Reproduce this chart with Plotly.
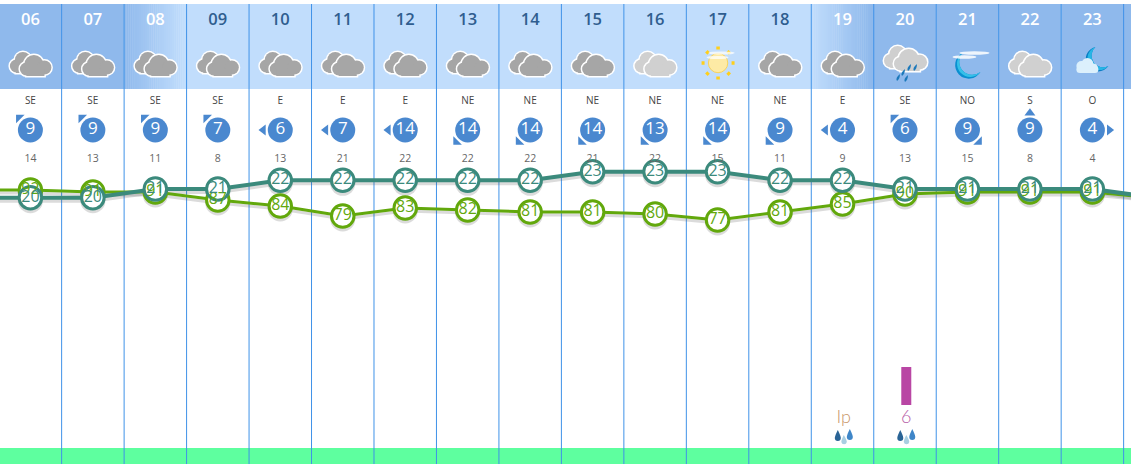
import base64
import math
import plotly.graph_objects as go

hours = [6, 7, 8, 9, 10, 11, 12, 13, 14, 15, 16, 17, 18, 19, 20, 21, 22, 23]
hour_labels = ["06", "07", "08", "09", "10", "11", "12", "13", "14", "15", "16", "17", "18", "19", "20", "21", "22", "23"]
temperature = [20, 20, 21, 21, 22, 22, 22, 22, 22, 23, 23, 23, 22, 22, 21, 21, 21, 21]
humidity = [92, 91, 91, 87, 84, 79, 83, 82, 81, 81, 80, 77, 81, 85, 90, 91, 91, 91]
temp_before, temp_after = 20, 20
hum_before, hum_after = 92, 88
wind_dir = ["SE", "SE", "SE", "SE", "E", "E", "E", "NE", "NE", "NE", "NE", "NE", "NE", "E", "SE", "NO", "S", "O"]
wind_speed = [9, 9, 9, 7, 6, 7, 14, 14, 14, 14, 13, 14, 9, 4, 6, 9, 9, 4]
gusts = [14, 13, 11, 8, 13, 21, 22, 22, 22, 21, 22, 15, 11, 9, 13, 15, 8, 4]
rain = [None] * 14 + [6, None, None, None]
rain_labels = [""] * 13 + ["Ip", "6", "", "", ""]
sky = ["cloud", "cloud", "cloud", "cloud", "cloud", "cloud", "cloud", "cloud", "cloud", "cloud", "light",
       "sun", "cloud", "cloud", "rain", "moon", "light", "mooncloud"]
is_night = [True, True, "dusk", False, False, False, False, False, False, False, False, False, False,
            "dawn", True, True, True, True]

PX = 62.47
X0 = 30.4
def px_to_hour(p):
    return 6 + (p - X0) / PX
XMIN, XMAX = px_to_hour(0), px_to_hour(1131)

NIGHT = (143, 185, 236)
DAY = (193, 221, 252)
GRID = "#3f92e8"
TEMP = "#3b8a7c"
HUM = "#62a80c"
WIND = "#4a88cf"
FONT = "Open Sans"
SHADOW = "rgba(90,90,90,.22)"


def rgb(c):
    return "rgb(%d,%d,%d)" % tuple(round(v) for v in c)


def mix(a, b, t):
    return tuple(a[i] + (b[i] - a[i]) * t for i in range(3))


def uri(svg):
    return "data:image/svg+xml;base64," + base64.b64encode(svg.encode()).decode()


def cloud_shape(ox, oy, s, circles, rect, fill):
    out = ""
    for st in ('fill="#fff" stroke="#fff" stroke-width="3"', f'fill="{fill}"'):
        for c in circles:
            out += f'<circle cx="{ox+s*c[0]}" cy="{oy+s*c[1]}" r="{s*c[2]}" {st}/>'
        out += f'<rect x="{ox+s*rect[0]}" y="{oy+s*rect[1]}" width="{s*rect[2]}" height="{s*rect[3]}" {st}/>'
    return out


def double_cloud(fill, dx=0, dy=0, s=1.0):
    back = cloud_shape(8.5 + dx, 13 + dy, s, [(7.5, 14, 6.5), (14, 8, 8)], (7, 14, 18, 7), fill)
    front = cloud_shape(19.5 + dx, 16 + dy, s, [(6.5, 14, 6.5), (14, 9.5, 9.5), (24.5, 12.5, 7)], (6.5, 14, 18, 7), fill)
    return back + front


HAZE = '<filter id="b"><feGaussianBlur stdDeviation="0.7"/></filter>'


def icon_svg(kind):
    body = ""
    if kind == "cloud":
        body = double_cloud("#a6a6a6")
    elif kind == "light":
        body = double_cloud("#d0d0d0")
    elif kind == "rain":
        body = double_cloud("#cfcfcf", dx=-0.5, dy=-6, s=1.05)
        for (x, y) in [(27, 34), (33, 29), (39, 29), (22, 39), (30, 40)]:
            body += f'<path d="M{x+3} {y-4} Q{x+3} {y+1} {x} {y+3} Q{x-2} {y} {x+3} {y-4}Z" fill="#1b78ba"/>'
    elif kind == "sun":
        for k in range(8):
            a = k * math.pi / 4
            body += (f'<line x1="{30.5+13.5*math.cos(a):.1f}" y1="{24+13.5*math.sin(a):.1f}" '
                     f'x2="{30.5+16.5*math.cos(a):.1f}" y2="{24+16.5*math.sin(a):.1f}" stroke="#ffcf1a" stroke-width="3.5"/>')
        body += '<circle cx="30.5" cy="24" r="9.7" fill="#fdeaa5" stroke="#f9d35a" stroke-width="1"/>'
        body += HAZE + '<g filter="url(#b)"><ellipse cx="34" cy="14" rx="13" ry="1.6" fill="#fff" opacity=".75"/>'
        body += '<ellipse cx="30" cy="18.5" rx="11" ry="1.6" fill="#fff" opacity=".75"/></g>'
    elif kind == "moon":
        body += '<path d="M25 14 A13.6 13.6 0 1 0 43 33 A13.15 13.15 0 0 1 25 14Z" fill="#0a8fd0"/>'
        body += '<path d="M25 14 A13.2 13.2 0 1 0 43 33 A13.15 13.15 0 0 1 25 14Z" fill="#35c0e8"/>'
        body += HAZE + '<g filter="url(#b)"><ellipse cx="37" cy="14" rx="15" ry="1.7" fill="#fff" opacity=".85"/>'
        body += '<ellipse cx="27" cy="18" rx="12" ry="1.7" fill="#fff" opacity=".85"/></g>'
    elif kind == "mooncloud":
        body += '<path d="M33 8 A12.4 12.4 0 1 0 46 27 A11.6 11.6 0 0 1 33 8Z" fill="#0a7fc4"/>'
        body += '<path d="M33 8 A11.9 11.9 0 1 0 46 27 A11.6 11.6 0 0 1 33 8Z" fill="#27b6e6"/>'
        body += ('<g fill="#dcf0fc"><circle cx="19" cy="27" r="5"/><circle cx="25" cy="25" r="6"/>'
                 '<circle cx="31" cy="29" r="4.5"/><rect x="14" y="27" width="22" height="7" rx="3.5"/></g>')
    return f'<svg xmlns="http://www.w3.org/2000/svg" width="60" height="50" viewBox="0 0 60 50">{body}</svg>'


DROPS = ('<svg xmlns="http://www.w3.org/2000/svg" width="24" height="20" viewBox="0 0 24 20">'
         '<path d="M6 2 Q3 8 3 10 A3 3 0 0 0 9 10 Q9 8 6 2Z" fill="#2a6496"/>'
         '<path d="M12 7 Q9.5 12 9.5 14 A2.8 2.8 0 0 0 15 14 Q15 12 12 7Z" fill="#a9cfe2"/>'
         '<path d="M18 1 Q15 7 15 9 A3 3 0 0 0 21 9 Q21 7 18 1Z" fill="#3f86c8"/></svg>')

ROW_HOUR, ROW_DIR, ROW_WIND, ROW_GUST, ROW_RAIN, ROW_ICON, ROW_DROP = 21, 101, 130, 159, 418, 64, 438
RAIN_DX = 1.3 / PX

shapes = []
for i, h in enumerate(hours):
    left, right = h - 0.5, h + 0.5
    mode = is_night[i]
    if mode is True or mode is False:
        x0 = XMIN - 1 if i == 0 else left
        x1 = XMAX + 1 if i == len(hours) - 1 else right
        shapes.append(dict(type="rect", xref="x", yref="y5", x0=x0, x1=x1, y0=4, y1=89, layer="below",
                           fillcolor=rgb(NIGHT if mode else DAY), line_width=0))
    else:
        steps = 30
        for s in range(steps):
            t = (s + 0.5) / steps
            c = mix(NIGHT, DAY, min(1, t / 0.95)) if mode == "dusk" else mix(DAY, NIGHT, min(1, t / 0.95))
            shapes.append(dict(type="rect", xref="x", yref="y5", x0=left + s / steps, x1=left + (s + 1.2) / steps,
                               y0=4, y1=89, layer="below", fillcolor=rgb(c), line_width=0))
shapes.append(dict(type="rect", xref="paper", yref="y5", x0=0, x1=1, y0=448, y1=464, layer="below",
                   fillcolor="#5eff9f", line_width=0))
for h in hours:
    shapes.append(dict(type="line", xref="x", yref="y5", x0=h + 0.5, x1=h + 0.5, y0=4, y1=464, layer="below",
                       line=dict(color=GRID, width=1)))

images = []
for h, s in zip(hours, sky):
    images.append(dict(source=uri(icon_svg(s)), xref="x", yref="y5", x=h, y=ROW_ICON, sizex=60 / PX, sizey=50,
                       xanchor="center", yanchor="middle", sizing="stretch", layer="above"))
for h, lab in zip(hours, rain_labels):
    if lab:
        images.append(dict(source=uri(DROPS), xref="x", yref="y5", x=h + RAIN_DX, y=ROW_DROP, sizex=24 / PX, sizey=20,
                           xanchor="center", yanchor="middle", sizing="stretch", layer="above"))

line_x = [5] + hours + [24]
temp_line = [temp_before] + temperature + [temp_after]
hum_line = [hum_before] + humidity + [hum_after]

fig = go.Figure()

fig.add_trace(go.Scatter(x=line_x, y=hum_line, yaxis="y", mode="lines", line=dict(color=SHADOW, width=3),
                         hoverinfo="skip", showlegend=False))
fig.add_trace(go.Scatter(x=hours, y=humidity, yaxis="y", mode="markers", marker=dict(size=25, color=SHADOW),
                         hoverinfo="skip", showlegend=False))
fig.add_trace(go.Scatter(x=line_x, y=temp_line, yaxis="y2", mode="lines", line=dict(color=SHADOW, width=4),
                         hoverinfo="skip", showlegend=False))
fig.add_trace(go.Scatter(x=hours, y=temperature, yaxis="y2", mode="markers", marker=dict(size=25, color=SHADOW),
                         hoverinfo="skip", showlegend=False))

fig.add_trace(go.Scatter(x=hours, y=[ROW_GUST] * 18, yaxis="y5", mode="text", text=[str(g) for g in gusts],
                         textfont=dict(family=FONT, size=10.5, color="#666"), showlegend=False, hoverinfo="skip"))

fig.add_trace(go.Scatter(x=line_x, y=hum_line, yaxis="y3", mode="lines", line=dict(color=HUM, width=3),
                         name="Humedad", showlegend=False))
fig.add_trace(go.Scatter(x=hours, y=humidity, yaxis="y3", mode="markers",
                         marker=dict(size=22.5, color="white", line=dict(color=HUM, width=3)), showlegend=False))
fig.add_trace(go.Scatter(x=line_x, y=temp_line, yaxis="y4", mode="lines", line=dict(color=TEMP, width=4),
                         name="Temperatura", showlegend=False))
fig.add_trace(go.Scatter(x=hours, y=temperature, yaxis="y4", mode="markers",
                         marker=dict(size=22.5, color="white", line=dict(color=TEMP, width=3)), showlegend=False))

day_text = "#2f5d8f"
fig.add_trace(go.Scatter(x=hours, y=[ROW_HOUR] * 18, yaxis="y6", mode="text", text=hour_labels,
                         textfont=dict(family=FONT, size=16.5, weight=600,
                                       color=["#ffffff" if n in (True, "dusk", "dawn") else day_text for n in is_night]),
                         showlegend=False, hoverinfo="skip"))
fig.add_trace(go.Scatter(x=hours, y=[ROW_DIR] * 18, yaxis="y6", mode="text", text=wind_dir,
                         textfont=dict(family=FONT, size=10, color="#444"), showlegend=False, hoverinfo="skip"))
fig.add_trace(go.Scatter(x=hours, y=[ROW_WIND] * 18, yaxis="y6", mode="markers+text", text=[str(v) for v in wind_speed],
                         marker=dict(size=25, color=WIND), textposition="middle center",
                         textfont=dict(family=FONT, size=17, color="white"), showlegend=False))

pointer = {"SE": ("triangle-nw", -11.5, -12.5), "E": ("triangle-left", -17, 0), "NE": ("triangle-sw", -11.5, 12),
           "S": ("triangle-up", 0, -17), "NO": ("triangle-se", 11.5, 12), "O": ("triangle-right", 17, 0)}
px_ = [h + pointer[d][1] / PX for h, d in zip(hours, wind_dir)]
py_ = [ROW_WIND + pointer[d][2] for d in wind_dir]
fig.add_trace(go.Scatter(x=px_, y=py_, yaxis="y6", mode="markers",
                         marker=dict(size=9.5, color=WIND, symbol=[pointer[d][0] for d in wind_dir]),
                         showlegend=False, hoverinfo="skip"))

fig.add_trace(go.Bar(x=hours, y=rain, yaxis="y7", width=10 / PX, offset=-5 / PX + RAIN_DX,
                     marker=dict(color="#b946a4", line_width=0), showlegend=False))
fig.add_trace(go.Scatter(x=[h + RAIN_DX for h in hours], y=[ROW_RAIN] * 18, yaxis="y6", mode="text", text=rain_labels,
                         textfont=dict(family="Lato", size=18, weight=300,
                                       color=["#c9966a" if t == "Ip" else "#b860a8" for t in rain_labels]),
                         showlegend=False, hoverinfo="skip"))

fig.add_trace(go.Scatter(x=hours, y=humidity, yaxis="y8", mode="text", text=[str(v) for v in humidity],
                         textfont=dict(family=FONT, size=16, color=HUM), showlegend=False, hoverinfo="skip"))
fig.add_trace(go.Scatter(x=hours, y=temperature, yaxis="y9", mode="text", text=[str(v) for v in temperature],
                         textfont=dict(family=FONT, size=16, color=TEMP), showlegend=False, hoverinfo="skip"))


def temp_range(shift=0):
    return [21 - (464 - 189 - shift) / 8.67, 21 + (189 + shift) / 8.67]


def hum_range(shift=0):
    return [91 - (464 - 192 - shift) / 2, 91 + (192 + shift) / 2]


hidden = dict(visible=False, fixedrange=True, showgrid=False, zeroline=False)
fig.update_layout(
    width=1131, height=464, margin=dict(l=0, r=0, t=0, b=0, pad=0),
    paper_bgcolor="white", plot_bgcolor="rgba(0,0,0,0)", showlegend=False,
    xaxis=dict(range=[XMIN, XMAX], **hidden),
    yaxis=dict(range=hum_range(3), **hidden),
    yaxis2=dict(range=temp_range(3), overlaying="y", **hidden),
    yaxis3=dict(range=hum_range(), overlaying="y", **hidden),
    yaxis4=dict(range=temp_range(), overlaying="y", **hidden),
    yaxis5=dict(range=[464, 0], overlaying="y", **hidden),
    yaxis6=dict(range=[464, 0], overlaying="y", **hidden),
    yaxis7=dict(range=[-59 / 6.33, 405 / 6.33], overlaying="y", **hidden),
    yaxis8=dict(range=hum_range(), overlaying="y", **hidden),
    yaxis9=dict(range=temp_range(), overlaying="y", **hidden),
    shapes=shapes, images=images,
)
fig.write_html("out.html", config=dict(displayModeBar=False),
               post_script="document.body.style.margin='0';document.documentElement.style.overflow='hidden';")
